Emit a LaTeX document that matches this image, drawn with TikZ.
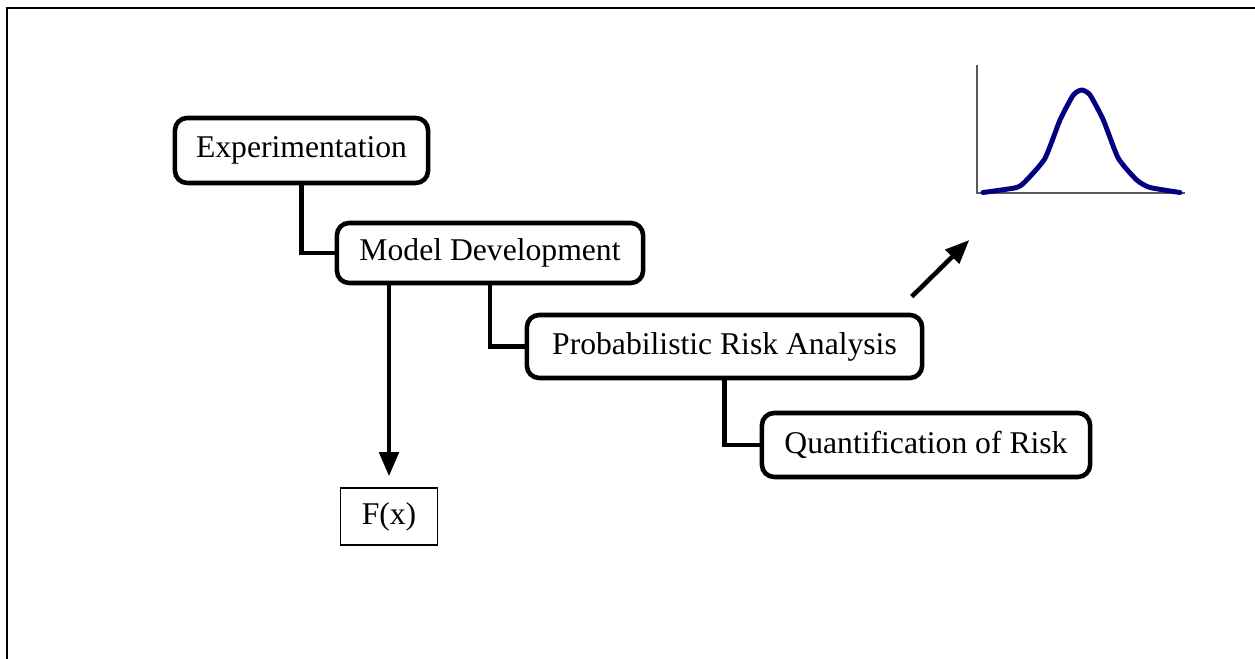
\documentclass[tikz,border=0pt]{standalone}
\usepackage{fontspec}
\setmainfont{Liberation Serif}
\usetikzlibrary{arrows.meta}
\definecolor{curvenavy}{RGB}{0,0,128}
\definecolor{axisgray}{RGB}{90,90,90}
\begin{document}
\begin{tikzpicture}[x=0.01cm,y=-0.01cm,
  stage/.style={draw,line width=1.3pt,rounded corners=3.5pt,fill=white,
    inner sep=0pt,font=\fontsize{9}{11}\selectfont},
  link/.style={line width=1.3pt},
  pointer/.style={line width=1.3pt,-{Triangle[length=0.24cm,width=0.19cm]}},
  result/.style={draw,line width=0.4pt,inner sep=0pt,minimum width=0.97cm,
    minimum height=0.57cm,font=\fontsize{9}{11}\selectfont}]
  \useasboundingbox (0,0) rectangle (1255,659);
  % page frame
  \draw[line width=0.8pt] (7,659) -- (7,8) -- (1255,8);

  % process stages
  \node[stage,minimum width=2.53cm,minimum height=0.65cm] (exp) at (301.5,150.5) {Experimentation};
  \node[stage,minimum width=3.06cm,minimum height=0.60cm] (model) at (490,253) {Model Development};
  \node[stage,minimum width=3.95cm,minimum height=0.63cm] (pra) at (724.5,346.5) {Probabilistic Risk Analysis};
  \node[stage,minimum width=3.28cm,minimum height=0.64cm] (quant) at (926,445) {Quantification of Risk};

  % staircase links
  \draw[link] (exp.south) |- (model.west);
  \draw[link] (model.south) |- (pra.west);
  \draw[link] (pra.south) |- (quant.west);

  % function output
  \node[result] (fx) at (389,516.5) {F(x)};
  \draw[pointer] (model.south -| fx.north) -- ([yshift=0.11cm]fx.north);

  % distribution output
  \coordinate (pdftail) at (911.7,296.7);
  \coordinate (pdfhead) at (969.3,240);
  \draw[pointer] (pdftail) -- (pdfhead);

  \coordinate (origin) at (977,193);
  \coordinate (yend) at (977,65);
  \coordinate (xend) at (1185,193);
  \draw[axisgray,line width=0.35pt] (yend) -- (origin) -- (xend);
  \draw[curvenavy,line width=1.4pt,line join=round,line cap=round]
    plot[smooth,tension=0.35] coordinates {(983,192.5) (1016.7,187.5) (1026.7,180)
      (1045,158.3) (1060,120) (1073.3,95) (1081.7,90) (1090,95) (1103.3,120)
      (1118.3,158.3) (1136.7,180) (1150,187.5) (1180,192.5)};
\end{tikzpicture}
\end{document}
